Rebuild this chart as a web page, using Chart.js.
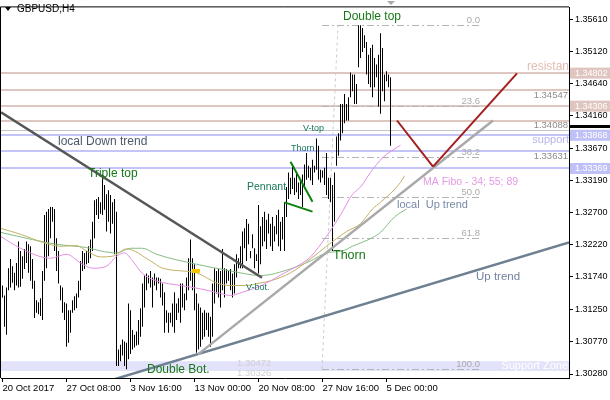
<!DOCTYPE html>
<html>
<head>
<meta charset="utf-8">
<script src="https://cdn.jsdelivr.net/npm/chart.js@4.4.1/dist/chart.umd.min.js"></script>
<style>
html, body { margin: 0; padding: 0; background: #fff; overflow: hidden; }
canvas { display: block; }
</style>
</head>
<body>
<canvas id="chart" width="610" height="400"></canvas>
<script>
const tickIdx = [0, 32, 64, 96, 128, 160, 192];
const tickText = ["20 Oct 2017", "27 Oct 08:00", "3 Nov 16:00", "13 Nov 00:00", "20 Nov 08:00", "27 Nov 16:00", "5 Dec 00:00"];
const priceTicks = [1.3561, 1.3512, 1.3464, 1.3416, 1.3367, 1.3319, 1.327, 1.3222, 1.3174, 1.3125, 1.3077, 1.3028];

// H4 bars, high / low
const barHigh = [
  1.3161,1.3146,1.3158,1.3187,1.3201,1.3190,1.3180,1.3195,1.3227,1.3213,
  1.3205,1.3216,1.3227,1.3223,1.3220,1.3201,1.3168,1.3139,1.3136,1.3142,
  1.3183,1.3267,1.3272,1.3276,1.3279,1.3279,1.3276,1.3232,1.3213,1.3161,
  1.3158,1.3136,1.3134,1.3124,1.3124,1.3139,1.3145,1.3149,1.3168,1.3198,
  1.3213,1.3210,1.3213,1.3220,1.3230,1.3257,1.3289,1.3291,1.3294,1.3286,
  1.3328,1.3312,1.3298,1.3304,1.3297,1.3286,1.3291,1.3272,1.3065,1.3072,
  1.3080,1.3077,1.3075,1.3134,
  1.3124,1.3094,1.3087,1.3092,1.3109,1.3127,1.3164,1.3176,1.3179,1.3176,
  1.3183,1.3173,1.3179,1.3173,1.3173,1.3171,1.3164,1.3151,1.3124,1.3120,
  1.3120,1.3134,1.3151,1.3134,1.3142,1.3164,1.3164,1.3149,1.3173,1.3202,
  1.3230,1.3202,1.3193,1.3149,1.3134,1.3128,1.3120,1.3124,1.3120,1.3120,
  1.3114,1.3164,1.3187,1.3183,1.3186,1.3183,1.3216,1.3187,1.3186,1.3183,
  1.3186,1.3179,1.3193,1.3208,1.3202,1.3220,1.3242,1.3247,1.3261,1.3254,
  1.3213,1.3238,1.3217,1.3208,
  1.3282,1.3250,1.3264,1.3272,1.3260,1.3269,1.3254,1.3264,1.3250,1.3267,
  1.3275,1.3257,1.3264,1.3286,1.3309,1.3331,1.3323,1.3341,1.3323,1.3331,
  1.3316,1.3320,1.3328,1.3343,1.3360,1.3341,1.3338,1.3350,1.3341,1.3382,
  1.3371,1.3335,1.3334,1.3338,1.3360,1.3323,1.3323,1.3312,1.3331,1.3385,
  1.3390,1.3434,1.3434,1.3449,1.3434,1.3444,1.3481,1.3478,1.3478,1.3464,
  1.3552,1.3552,1.3548,1.3537,1.3527,1.3508,1.3518,1.3523,1.3503,1.3493,
  1.3508,1.3540,1.3518,1.3478,1.3483,1.3478,1.3474
];
const barLow = [
  1.3143,1.3099,1.3087,1.3154,1.3158,1.3165,1.3154,1.3161,1.3158,1.3159,
  1.3171,1.3186,1.3195,1.3180,1.3168,1.3156,1.3112,1.3120,1.3118,1.3115,
  1.3109,1.3168,1.3187,1.3205,1.3232,1.3257,1.3213,1.3183,1.3164,1.3139,
  1.3120,1.3109,1.3069,1.3075,1.3090,1.3120,1.3124,1.3127,1.3143,1.3154,
  1.3183,1.3186,1.3193,1.3195,1.3202,1.3213,1.3232,1.3267,1.3261,1.3269,
  1.3267,1.3275,1.3242,1.3257,1.3239,1.3254,1.3208,1.3040,1.3040,1.3047,
  1.3056,1.3040,1.3035,1.3050,
  1.3058,1.3065,1.3068,1.3071,1.3072,1.3084,1.3099,1.3128,1.3154,1.3164,
  1.3158,1.3128,1.3161,1.3154,1.3164,1.3143,1.3131,1.3090,1.3105,1.3090,
  1.3105,1.3099,1.3090,1.3109,1.3120,1.3105,1.3128,1.3124,1.3139,1.3154,
  1.3168,1.3154,1.3124,1.3060,1.3065,1.3069,1.3080,1.3084,1.3094,1.3084,
  1.3069,1.3084,1.3134,1.3149,1.3143,1.3128,1.3154,1.3143,1.3164,1.3168,
  1.3154,1.3143,1.3149,1.3173,1.3187,1.3187,1.3187,1.3217,1.3198,1.3223,
  1.3202,1.3217,1.3187,1.3198,
  1.3179,1.3193,1.3220,1.3227,1.3216,1.3239,1.3220,1.3213,1.3227,1.3238,
  1.3220,1.3213,1.3230,1.3213,1.3264,1.3291,1.3298,1.3306,1.3297,1.3301,
  1.3291,1.3297,1.3279,1.3306,1.3320,1.3323,1.3319,1.3312,1.3331,1.3335,
  1.3320,1.3316,1.3323,1.3312,1.3297,1.3291,1.3286,1.3213,1.3257,1.3341,
  1.3356,1.3379,1.3390,1.3405,1.3409,1.3409,1.3444,1.3453,1.3434,1.3434,
  1.3489,1.3503,1.3512,1.3518,1.3478,1.3464,1.3459,1.3444,1.3459,1.3474,
  1.3430,1.3419,1.3453,1.3438,1.3468,1.3459,1.3371
];

// MA Fibo 34 / 55 / 89 (bar index, price)
const ma34Idx = [-1, 9, 24, 32, 39, 45, 52, 57, 61, 65, 70, 77, 89, 99, 109, 114, 120, 127, 134, 141, 149, 154, 162, 169, 175, 179, 184, 190, 199];
const ma34 = [1.3235, 1.3217, 1.3202, 1.3208, 1.3195, 1.3187, 1.3190, 1.3205, 1.3210, 1.3198, 1.3179, 1.3168, 1.3161, 1.3156, 1.3149, 1.3146, 1.3151, 1.3158, 1.3168, 1.3180, 1.3193, 1.3204, 1.3235, 1.3267, 1.3298, 1.3309, 1.3331, 1.3353, 1.3372];
const ma55Idx = [-1, 9, 20, 29, 37, 42, 49, 55, 62, 74, 80, 97, 107, 114, 122, 129, 134, 144, 154, 162, 172, 179, 185, 189, 199, 201];
const ma55 = [1.3247, 1.3238, 1.3226, 1.3220, 1.3221, 1.3213, 1.3204, 1.3205, 1.3216, 1.3198, 1.3187, 1.3180, 1.3165, 1.3161, 1.3161, 1.3165, 1.3168, 1.3180, 1.3201, 1.3220, 1.3242, 1.3254, 1.3276, 1.3286, 1.3316, 1.3326];
const ma89Idx = [-1, 15, 27, 42, 49, 57, 64, 70, 77, 97, 114, 129, 144, 154, 162, 170, 175, 185, 189, 196, 202];
const ma89 = [1.3241, 1.3230, 1.3223, 1.3218, 1.3213, 1.3210, 1.3217, 1.3217, 1.3208, 1.3193, 1.3183, 1.3176, 1.3186, 1.3198, 1.3210, 1.3213, 1.3220, 1.3233, 1.3241, 1.3264, 1.3276];

const resistanceLevels = [1.34802, 1.34547, 1.34306, 1.34088];
const supportLevels = [1.33868, 1.33631, 1.33369];
const boxedResistance = [1.34802, 1.34306];
const boxedSupport = [1.33868, 1.33369];
const textLevels = [1.34547, 1.34088, 1.33631];
const supportZone = [1.30326, 1.30472];
const bidLine = 1.33942;
const bidPrice = 1.3400;

const fibLevels = [0, 23.6, 38.2, 50, 61.8, 100];
const fibFrom = [159.75, 1.30354];
const fibTo = [167.75, 1.35522];
const fibRight = 238.75;

const GREEN = "#187818";
const TEAL = "#16785a";
const FONT = "Liberation Sans, Arial, sans-serif";

const trendLines = [
  { from: [-0.75, 1.34214], to: [129.75, 1.31727], color: "#565656", width: 2.5 },
  { from: [55, 1.30193], to: [283.25, 1.32259], color: "#6f8092", width: 2.5 },
  { from: [97.75, 1.30575], to: [245.25, 1.3409], color: "#a9a9a9", width: 2.5 },
  { from: [197.25, 1.3409], to: [215.25, 1.33396], color: "#a31f1f", width: 2 },
  { from: [215.25, 1.33396], to: [257.25, 1.34798], color: "#a31f1f", width: 2 },
  { from: [144, 1.3347], to: [155, 1.3287], color: "#0a820a", width: 2 },
  { from: [141, 1.3286], to: [155, 1.3272], color: "#0a820a", width: 2 },
];

const notes = [
  { text: "Double top", i: 170.25, p: 1.35655, color: GREEN, size: 12 },
  { text: "Triple top", i: 42.75, p: 1.33292, color: GREEN, size: 12 },
  { text: "Pennant", i: 122.25, p: 1.33086, color: TEAL, size: 10.5 },
  { text: "Thorn", i: 144.25, p: 1.33676, color: TEAL, size: 9 },
  { text: "V-top", i: 150.25, p: 1.33971, color: TEAL, size: 9 },
  { text: "Thorn", i: 165.25, p: 1.32067, color: GREEN, size: 12.5 },
  { text: "V-bot.", i: 121.75, p: 1.31579, color: TEAL, size: 9 },
  { text: "Double Bot.", i: 72.25, p: 1.30339, color: GREEN, size: 12 },
  { text: "local Down trend", i: 27.75, p: 1.33779, color: "#4e586c", size: 12 },
  { text: "local  Up trend", i: 197.25, p: 1.3282, color: "#7888a6", size: 11 },
  { text: "Up trend", i: 236.75, p: 1.31742, color: "#7282a0", size: 11.5 },
  { text: "MA Fibo - 34; 55; 89", i: 210.25, p: 1.33159, color: "#e49ae4", size: 10.5 },
  { text: "resistance", i: 262.25, p: 1.34902, color: "#e4bcb4", size: 12 },
];

const barData = barHigh.map((h, i) => ({ x: i, y: [barLow[i], h] }));
const toPoints = (idx, vals) => idx.map((v, k) => ({ x: v, y: vals[k] }));

const hLine = (ctx, a, y, color, width) => {
  ctx.strokeStyle = color;
  ctx.lineWidth = width;
  ctx.beginPath();
  ctx.moveTo(a.left, y);
  ctx.lineTo(a.right, y);
  ctx.stroke();
};

const mt4Objects = {
  id: "mt4Objects",
  beforeDatasetsDraw(chart) {
    const ctx = chart.ctx;
    const a = chart.chartArea;
    const X = (v) => chart.scales.x.getPixelForValue(v);
    const Y = (v) => chart.scales.y.getPixelForValue(v);
    ctx.save();
    ctx.beginPath();
    ctx.rect(a.left, a.top, a.right - a.left, a.bottom - a.top);
    ctx.clip();

    ctx.fillStyle = "#e2e2fa";
    ctx.fillRect(a.left, Y(supportZone[1]), a.right - a.left, Y(supportZone[0]) - Y(supportZone[1]));

    resistanceLevels.forEach((p) => hLine(ctx, a, Math.round(Y(p)), "#dfc7c1", 2));
    supportLevels.forEach((p) => hLine(ctx, a, Math.round(Y(p)), "#c4c4f8", 2));
    hLine(ctx, a, Math.round(Y(bidLine)) + 0.5, "#c4c4c4", 1);

    // fibo retracement
    ctx.setLineDash([3, 3]);
    ctx.strokeStyle = "#cccccc";
    ctx.lineWidth = 1;
    ctx.beginPath();
    ctx.moveTo(X(fibFrom[0]), Y(fibFrom[1]));
    ctx.lineTo(X(fibTo[0]), Y(fibTo[1]));
    ctx.stroke();
    ctx.setLineDash([7, 3, 2, 3]);
    ctx.strokeStyle = "#b4b4b4";
    ctx.font = "9.5px " + FONT;
    ctx.fillStyle = "#ababab";
    ctx.textAlign = "right";
    ctx.textBaseline = "middle";
    fibLevels.forEach((lvl) => {
      const y = Math.round(Y(fibTo[1] - (fibTo[1] - fibFrom[1]) * lvl / 100)) + 0.5;
      ctx.beginPath();
      ctx.moveTo(X(fibFrom[0]), y);
      ctx.lineTo(X(fibRight), y);
      ctx.stroke();
      ctx.fillText(lvl.toFixed(1), X(fibRight), y - 5);
    });
    ctx.setLineDash([]);
    ctx.restore();
  },
  afterDatasetsDraw(chart) {
    const ctx = chart.ctx;
    const a = chart.chartArea;
    const X = (v) => chart.scales.x.getPixelForValue(v);
    const Y = (v) => chart.scales.y.getPixelForValue(v);
    ctx.save();
    ctx.beginPath();
    ctx.rect(a.left, a.top, a.right - a.left, a.bottom - a.top);
    ctx.clip();

    trendLines.forEach((t) => {
      ctx.strokeStyle = t.color;
      ctx.lineWidth = t.width;
      ctx.beginPath();
      ctx.moveTo(X(t.from[0]), Y(t.from[1]));
      ctx.lineTo(X(t.to[0]), Y(t.to[1]));
      ctx.stroke();
    });

    // small marker on the MA
    ctx.fillStyle = "#f2c200";
    ctx.fillRect(X(94.75), Y(1.3186), X(98.75) - X(94.75), Y(1.3180) - Y(1.3186));

    ctx.textBaseline = "middle";
    ctx.textAlign = "left";
    notes.forEach((n) => {
      ctx.font = n.size + "px " + FONT;
      ctx.fillStyle = n.color;
      ctx.fillText(n.text, X(n.i), Y(n.p));
    });

    ctx.textAlign = "right";
    ctx.font = "11px " + FONT;
    ctx.fillStyle = "#b4b4f0";
    ctx.fillText("support", a.right, Y(1.33794));
    ctx.fillStyle = "#ffffff";
    ctx.fillText("Support Zone", a.right - 1, Y(1.30398));

    ctx.font = "9.5px " + FONT;
    ctx.fillStyle = "#8c8c8c";
    textLevels.forEach((p) => ctx.fillText(p.toFixed(5), a.right - 1, Y(p) + 5));

    ctx.textAlign = "left";
    ctx.fillStyle = "#cfcfd6";
    supportZone.forEach((p) => ctx.fillText(p.toFixed(5), X(117.25), Y(p) + 2));
    ctx.restore();
  },
  afterDraw(chart) {
    const ctx = chart.ctx;
    const a = chart.chartArea;
    const Y = (v) => chart.scales.y.getPixelForValue(v);
    const w = chart.width;
    ctx.save();

    // frame
    ctx.strokeStyle = "#000";
    ctx.lineWidth = 1;
    ctx.beginPath();
    ctx.moveTo(a.left - 0.5, a.bottom);
    ctx.lineTo(a.left - 0.5, a.top - 0.5);
    ctx.lineTo(a.right, a.top - 0.5);
    ctx.stroke();

    // price boxes on the axis
    ctx.font = "9px " + FONT;
    ctx.textAlign = "left";
    ctx.textBaseline = "middle";
    const box = (p, color) => {
      const y = Y(p);
      ctx.fillStyle = color;
      ctx.fillRect(a.right + 1, y - 5.5, w - a.right - 1, 11);
      ctx.fillStyle = "#ffffff";
      ctx.fillText(p.toFixed(5), a.right + 6, y);
    };
    boxedResistance.forEach((p) => box(p, "#dfc5bf"));
    boxedSupport.forEach((p) => box(p, "#c0c0f8"));
    ctx.fillStyle = "#000";
    ctx.fillRect(a.right + 1, Math.round(Y(bidPrice)) - 1, w - a.right - 1, 3);

    // title
    ctx.beginPath();
    ctx.moveTo(5, 7);
    ctx.lineTo(11, 7);
    ctx.lineTo(8, 11);
    ctx.closePath();
    ctx.fill();
    ctx.font = "10px " + FONT;
    ctx.fillStyle = "#000";
    ctx.fillText("GBPUSD,H4", 17, 9.5);

    ctx.fillStyle = "#a8a8a8";
    ctx.beginPath();
    ctx.moveTo(387, 1);
    ctx.lineTo(395, 1);
    ctx.lineTo(391, 5);
    ctx.closePath();
    ctx.fill();
    ctx.restore();
  },
};

new Chart(document.getElementById("chart"), {
  type: "bar",
  data: {
    datasets: [
      { type: "line", data: toPoints(ma34Idx, ma34), borderColor: "#e38fe3", borderWidth: 1, pointRadius: 0, cubicInterpolationMode: "monotone" },
      { type: "line", data: toPoints(ma55Idx, ma55), borderColor: "#c2b263", borderWidth: 1, pointRadius: 0, cubicInterpolationMode: "monotone" },
      { type: "line", data: toPoints(ma89Idx, ma89), borderColor: "#86bb86", borderWidth: 1, pointRadius: 0, cubicInterpolationMode: "monotone" },
      { type: "bar", data: barData, backgroundColor: "#000", borderWidth: 0, barThickness: 1, inflateAmount: 0, grouped: false },
    ],
  },
  options: {
    responsive: false,
    animation: false,
    devicePixelRatio: 1,
    layout: { padding: { left: 1, top: 1 } },
    plugins: { legend: { display: false }, tooltip: { enabled: false } },
    scales: {
      x: {
        type: "linear",
        min: -0.75,
        max: 283.25,
        offset: false,
        afterBuildTicks: (s) => { s.ticks = tickIdx.map((v) => ({ value: v })); },
        afterFit: (s) => { s.height = 22; },
        ticks: {
          callback: (v, i) => tickText[i],
          align: "start",
          autoSkip: false,
          maxRotation: 0,
          color: "#000",
          padding: 1,
          font: { family: FONT, size: 9.5 },
        },
        grid: { drawOnChartArea: false, offset: false, tickLength: 4, color: "#000" },
        border: { color: "#000" },
      },
      y: {
        position: "right",
        min: 1.3022,
        max: 1.3579,
        afterBuildTicks: (s) => { s.ticks = priceTicks.map((v) => ({ value: v })); },
        afterFit: (s) => { s.width = 41; },
        ticks: {
          callback: (v) => v.toFixed(5),
          color: "#000",
          padding: 2,
          font: { family: FONT, size: 9 },
        },
        grid: { drawOnChartArea: false, tickLength: 4, color: "#000" },
        border: { color: "#000" },
      },
    },
  },
  plugins: [mt4Objects],
});
</script>
</body>
</html>
